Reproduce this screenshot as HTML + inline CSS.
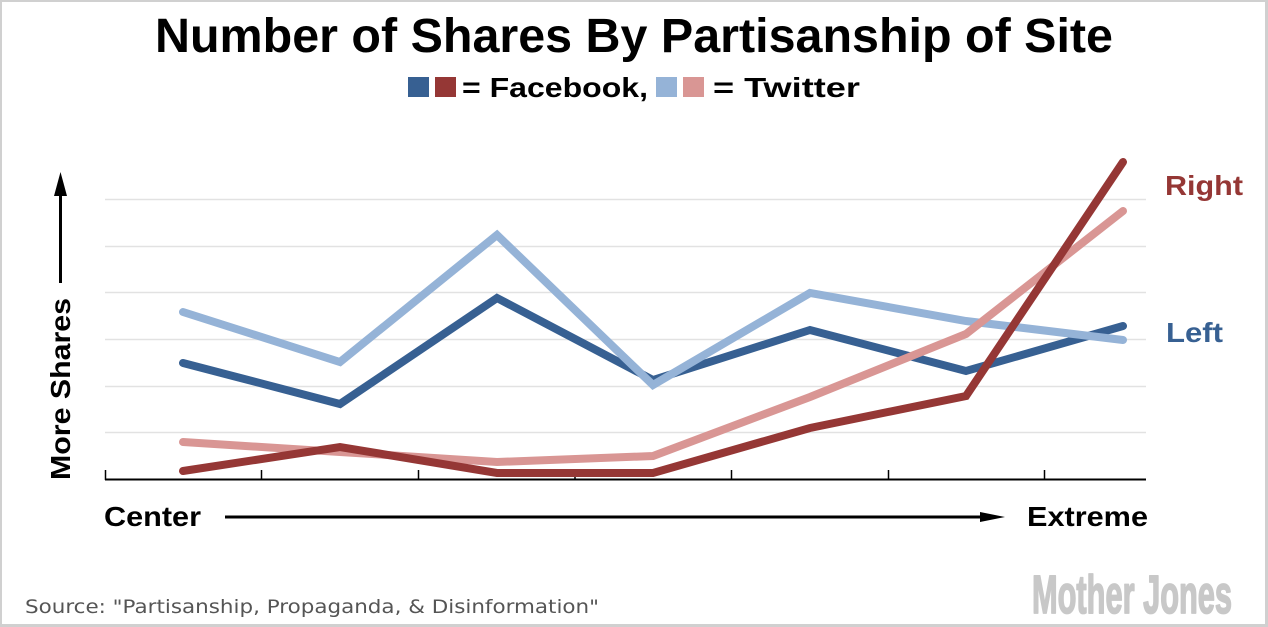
<!DOCTYPE html>
<html>
<head>
<meta charset="utf-8">
<style>
html,body{margin:0;padding:0;background:#fff;}
svg{display:block;}
</style>
</head>
<body>
<svg width="1268" height="627" viewBox="0 0 1268 627" xmlns="http://www.w3.org/2000/svg">
  <rect x="0" y="0" width="1268" height="627" fill="#fff"/>
  <!-- border -->
  <rect x="1" y="1" width="1265" height="624" fill="none" stroke="#d0d0d0" stroke-width="2"/>
  <rect x="1265" y="0" width="3" height="627" fill="#d0d0d0"/>
  <rect x="0" y="624" width="1268" height="3" fill="#d0d0d0"/>

  <!-- title -->
  <text x="634" y="52" text-anchor="middle" font-family="Liberation Sans, sans-serif" font-weight="bold" font-size="48" textLength="958" lengthAdjust="spacingAndGlyphs" fill="#000">Number of Shares By Partisanship of Site</text>

  <!-- legend -->
  <rect x="408" y="77" width="21" height="20" fill="#376092"/>
  <rect x="435" y="77" width="21" height="20" fill="#953735"/>
  <text x="462" y="97" font-family="Liberation Sans, sans-serif" font-weight="bold" font-size="28" textLength="186" lengthAdjust="spacingAndGlyphs" fill="#000">= Facebook,</text>
  <rect x="656" y="77" width="21" height="20" fill="#95b3d7"/>
  <rect x="683" y="77" width="21" height="20" fill="#d99694"/>
  <text x="713" y="97" font-family="Liberation Sans, sans-serif" font-weight="bold" font-size="28" textLength="147" lengthAdjust="spacingAndGlyphs" fill="#000">= Twitter</text>

  <!-- gridlines -->
  <g stroke="#e2e2e2" stroke-width="1.5">
    <line x1="105" y1="199.5" x2="1146" y2="199.5"/>
    <line x1="105" y1="246.5" x2="1146" y2="246.5"/>
    <line x1="105" y1="292.5" x2="1146" y2="292.5"/>
    <line x1="105" y1="339.5" x2="1146" y2="339.5"/>
    <line x1="105" y1="386.5" x2="1146" y2="386.5"/>
    <line x1="105" y1="432.5" x2="1146" y2="432.5"/>
  </g>

  <!-- axis -->
  <line x1="105" y1="479.5" x2="1146" y2="479.5" stroke="#000" stroke-width="2"/>
  <g stroke="#000" stroke-width="1.5">
    <line x1="105.5" y1="470" x2="105.5" y2="480"/>
    <line x1="261.5" y1="470" x2="261.5" y2="480"/>
    <line x1="418.5" y1="470" x2="418.5" y2="480"/>
    <line x1="575" y1="470" x2="575" y2="480"/>
    <line x1="731.5" y1="470" x2="731.5" y2="480"/>
    <line x1="888.5" y1="470" x2="888.5" y2="480"/>
    <line x1="1044.5" y1="470" x2="1044.5" y2="480"/>
  </g>

  <!-- series -->
  <g fill="none" stroke-width="8" stroke-linecap="round" stroke-linejoin="miter">
    <polyline stroke="#376092" points="183,363 340,404 497,298 653,380 810,330 966,371 1123,326"/>
    <polyline stroke="#95b3d7" points="183,312 340,362 497,235 653,385 810,293 966,321 1123,340"/>
    <polyline stroke="#d99694" points="183,442 340,452 497,462 653,456 810,397 966,334 1123,211"/>
    <polyline stroke="#953735" points="183,471 340,447 497,473 653,473 810,428 966,396 1123,162"/>
  </g>

  <!-- series labels -->
  <text x="1165" y="195" font-family="Liberation Sans, sans-serif" font-weight="bold" font-size="28" textLength="78" lengthAdjust="spacingAndGlyphs" fill="#953735">Right</text>
  <text x="1166" y="342" font-family="Liberation Sans, sans-serif" font-weight="bold" font-size="28" textLength="57" lengthAdjust="spacingAndGlyphs" fill="#376092">Left</text>

  <!-- y-axis label -->
  <text transform="translate(70,480) rotate(-90)" x="0" y="0" font-family="Liberation Sans, sans-serif" font-weight="bold" font-size="28" textLength="182" lengthAdjust="spacingAndGlyphs" fill="#000">More Shares</text>
  <line x1="60.5" y1="193" x2="60.5" y2="283" stroke="#000" stroke-width="3"/>
  <polygon points="60.5,172 54,196 67,196" fill="#000"/>

  <!-- x-axis labels -->
  <text x="104" y="526" font-family="Liberation Sans, sans-serif" font-weight="bold" font-size="28" textLength="97" lengthAdjust="spacingAndGlyphs" fill="#000">Center</text>
  <line x1="225" y1="517" x2="982" y2="517" stroke="#000" stroke-width="3"/>
  <polygon points="980,512 1005,517 980,522" fill="#000"/>
  <text x="1027" y="526" font-family="Liberation Sans, sans-serif" font-weight="bold" font-size="28" textLength="121" lengthAdjust="spacingAndGlyphs" fill="#000">Extreme</text>

  <!-- source -->
  <text x="25" y="613" font-family="DejaVu Sans, Liberation Sans, sans-serif" font-size="19" textLength="574" lengthAdjust="spacingAndGlyphs" fill="#555">Source: "Partisanship, Propaganda, &amp; Disinformation"</text>

  <!-- logo -->
  <text x="1032" y="613" font-family="Liberation Sans Narrow, Liberation Sans, sans-serif" font-weight="bold" font-size="54" textLength="200" lengthAdjust="spacingAndGlyphs" fill="#c8c8c8" stroke="#c8c8c8" stroke-width="1.8" stroke-linejoin="round">Mother Jones</text>
</svg>
</body>
</html>
